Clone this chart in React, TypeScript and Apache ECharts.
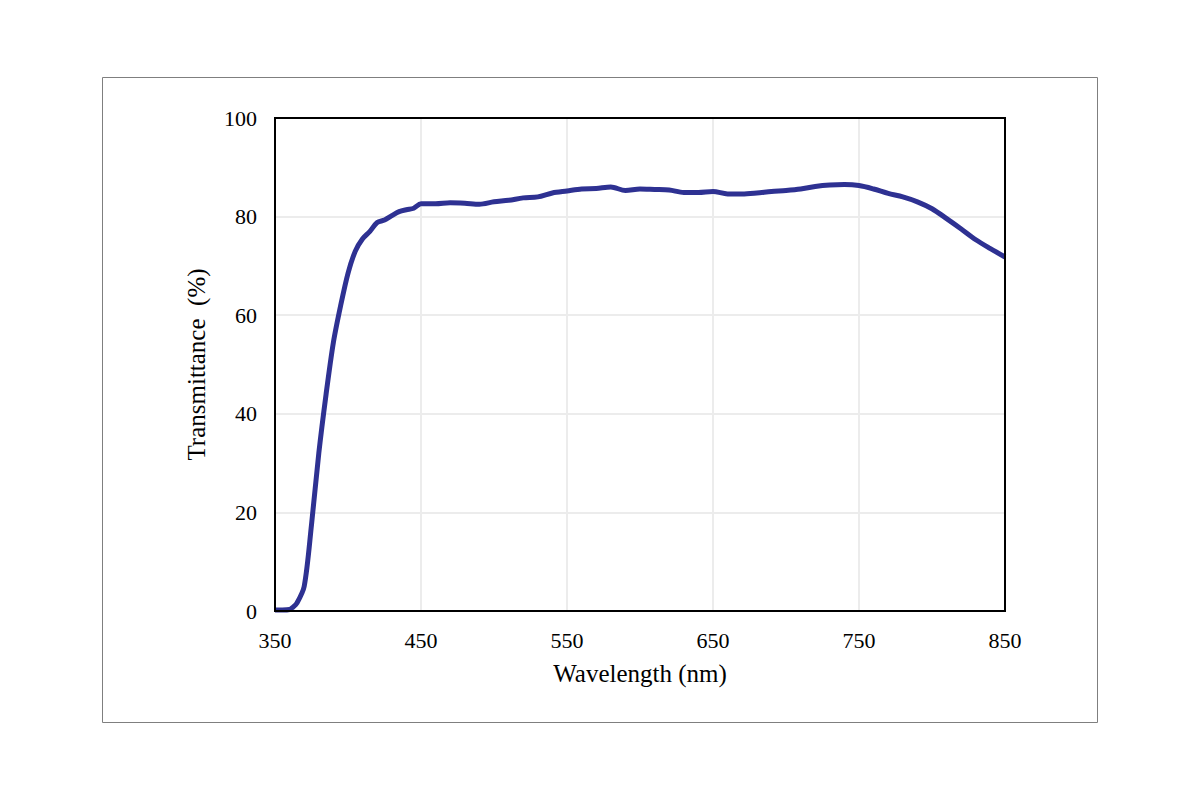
import React, { useEffect, useRef } from "react";
import * as echarts from "echarts";

const wavelengths = [350, 355, 360, 362, 365, 370, 375, 380, 385, 390, 395, 400, 405, 410, 415, 420, 425, 430, 435, 440, 445, 450, 460, 470, 480, 490, 500, 510, 520, 530, 540, 550, 560, 570, 580, 590, 600, 610, 620, 630, 640, 650, 660, 670, 680, 690, 700, 710, 720, 730, 740, 750, 760, 770, 780, 790, 800, 810, 820, 830, 840, 850];
const transmittance = [0.2, 0.2, 0.3, 0.7, 1.6, 5.0, 17.5, 32, 44, 54.5, 62, 68.5, 73, 75.5, 77, 78.8, 79.3, 80.2, 81, 81.4, 81.7, 82.6, 82.6, 82.8, 82.7, 82.5, 83.0, 83.3, 83.8, 84.0, 84.8, 85.2, 85.6, 85.7, 86.0, 85.3, 85.6, 85.5, 85.4, 84.9, 84.9, 85.1, 84.6, 84.6, 84.8, 85.1, 85.3, 85.6, 86.1, 86.4, 86.5, 86.3, 85.6, 84.7, 84.0, 83.0, 81.6, 79.6, 77.5, 75.3, 73.5, 71.8];

const xTicks = [350, 450, 550, 650, 750, 850];
const yTicks = [0, 20, 40, 60, 80, 100];

export default function App() {
  const ref = useRef<HTMLDivElement>(null);
  useEffect(() => {
    if (!ref.current) return;
    const chart = echarts.init(ref.current, null, { renderer: "svg" });
    const font = "'Liberation Serif', 'Times New Roman', serif";
    chart.setOption({
      animation: false,
      backgroundColor: "#fff",
      graphic: [
        {
          type: "rect",
          shape: { x: 102.5, y: 77.5, width: 995, height: 645 },
          style: { fill: "none", stroke: "#7f7f7f", lineWidth: 1 },
          silent: true,
        },
        {
          type: "rect",
          shape: { x: 275, y: 118, width: 730, height: 493 },
          style: { fill: "none", stroke: "#000", lineWidth: 2 },
          silent: true,
          z: 100,
        },
      ],
      grid: {
        left: 275,
        top: 118,
        width: 730,
        height: 493,
        show: false,
        containLabel: false,
      },
      xAxis: {
        type: "value",
        min: xTicks[0],
        max: xTicks[xTicks.length - 1],
        interval: 100,
        name: "Wavelength (nm)",
        nameLocation: "middle",
        nameGap: 50,
        nameTextStyle: { fontFamily: font, fontSize: 25, color: "#000" },
        axisLine: { show: true, lineStyle: { color: "#000", width: 2 } },
        axisTick: { show: false },
        axisLabel: { fontFamily: font, fontSize: 22, color: "#000", margin: 18 },
        splitLine: { show: true, lineStyle: { color: "#ececec", width: 2 } },
      },
      yAxis: {
        type: "value",
        min: yTicks[0],
        max: yTicks[yTicks.length - 1],
        interval: 20,
        name: "Transmittance  (%)",
        nameLocation: "middle",
        nameGap: 66,
        nameRotate: 90,
        nameTextStyle: { fontFamily: font, fontSize: 25, color: "#000" },
        axisLine: { show: true, lineStyle: { color: "#000", width: 2 } },
        axisTick: { show: false },
        axisLabel: { fontFamily: font, fontSize: 22, color: "#000", margin: 18 },
        splitLine: { show: true, lineStyle: { color: "#ececec", width: 2 } },
      },
      series: [
        {
          type: "line",
          data: wavelengths.map((w, i) => [w, transmittance[i]]),
          showSymbol: false,
          smooth: 0.3,
          lineStyle: { color: "#2E3192", width: 5 },
          clip: true,
        },
      ],
    });
    return () => chart.dispose();
  }, []);
  return (
    <div
      ref={ref}
      style={{ position: "absolute", left: 0, top: 0, width: 1200, height: 800 }}
    />
  );
}
